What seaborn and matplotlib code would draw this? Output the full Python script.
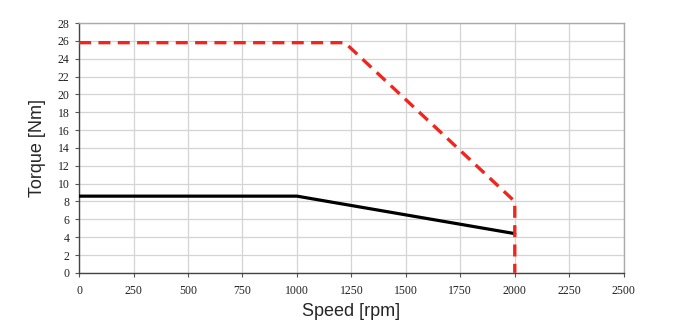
import matplotlib
matplotlib.use("Agg")
import matplotlib.pyplot as plt
import seaborn as sns
import pandas as pd

# Data
peak_speed = [0, 1220, 2000, 2000]
peak_torque = [25.8, 25.8, 8.0, 0.0]
cont_speed = [0, 1000, 2000]
cont_torque = [8.6, 8.6, 4.4]
x_ticks = [0, 250, 500, 750, 1000, 1250, 1500, 1750, 2000, 2250, 2500]
y_ticks = list(range(0, 29, 2))

sns.set_style("white")

fig = plt.figure(figsize=(7.0, 3.34), dpi=100)
ax = fig.add_axes([0.113, 0.183, 0.778, 0.748])

df_peak = pd.DataFrame({"speed": peak_speed, "torque": peak_torque})
df_cont = pd.DataFrame({"speed": cont_speed, "torque": cont_torque})

sns.lineplot(data=df_cont, x="speed", y="torque", sort=False, estimator=None,
             ax=ax, color="black", linewidth=2.3, zorder=3)
sns.lineplot(data=df_peak, x="speed", y="torque", sort=False, estimator=None,
             ax=ax, color="#f0261e", linewidth=2.4, zorder=4)
ax.lines[-1].set_dashes((3.6, 2.2))

ax.set_xlim(0, 2500)
ax.set_ylim(0, 28)
ax.set_xticks(x_ticks)
ax.set_yticks(y_ticks)
ax.grid(True, color="#d4d4d4", linewidth=0.9)
ax.set_axisbelow(True)

serif = {"family": "Liberation Serif", "size": 8.5, "color": "#222222"}
ax.set_xticklabels([str(t) for t in x_ticks], fontdict=serif)
ax.set_yticklabels([str(t) for t in y_ticks], fontdict=serif)
ax.tick_params(axis="both", which="both", direction="out", length=3, width=0.8,
               color="#555555", bottom=True, left=True, pad=4)
ax.tick_params(axis="x", pad=6)

for side in ["left", "bottom"]:
    ax.spines[side].set_color("#444444")
    ax.spines[side].set_linewidth(1.0)
for side in ["top", "right"]:
    ax.spines[side].set_visible(True)
    ax.spines[side].set_color("#aaaaaa")
    ax.spines[side].set_linewidth(1.0)

ax.set_xlabel("Speed [rpm]", family="Liberation Sans", fontsize=13, labelpad=4)
ax.set_ylabel("Torque [Nm]", family="Liberation Sans", fontsize=13, labelpad=8)

fig.savefig("out.png", dpi=100)
